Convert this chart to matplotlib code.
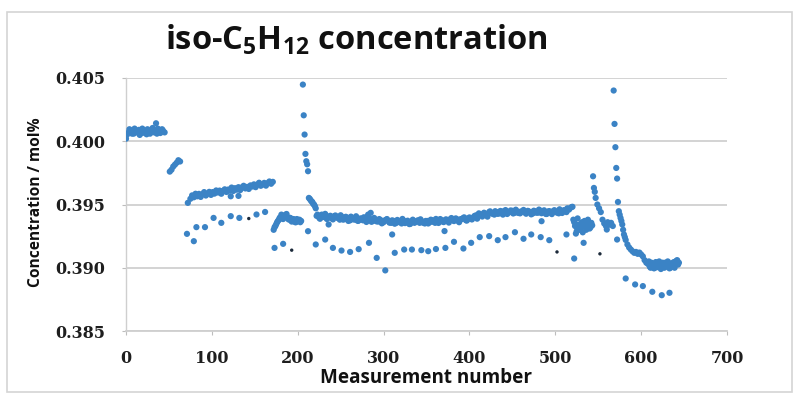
import matplotlib
matplotlib.use("Agg")
import matplotlib.pyplot as plt
from matplotlib.patches import Rectangle

# ---------------- data ----------------
# dense main series: (first measurement number, step, concentration values in mol%)
seg_a_start, seg_a_step = 0, 3
seg_a_y = [0.40020, 0.40070, 0.40085, 0.40060, 0.40075, 0.40090, 0.40065, 0.40080,
           0.40055, 0.40075, 0.40090, 0.40070, 0.40060, 0.40080, 0.40095, 0.40070]
seg_a2_start, seg_a2_step = 1, 3
seg_a2_y = [0.40050, 0.40095, 0.40060, 0.40100, 0.40070, 0.40050, 0.40100, 0.40065,
            0.40095, 0.40060, 0.40105, 0.40080, 0.40100, 0.40065, 0.40085]

seg_b_start, seg_b_step = 51, 2
seg_b_y = [0.39760, 0.39775, 0.39800, 0.39815, 0.39830, 0.39850, 0.39840]

seg_c_start, seg_c_step = 75, 2
seg_c_y = [0.39545, 0.39572, 0.39557, 0.39585, 0.39565, 0.39584, 0.39560, 0.39581, 0.39598, 0.39571,
           0.39585, 0.39600, 0.39576, 0.39598, 0.39586, 0.39611, 0.39595, 0.39610, 0.39585, 0.39608,
           0.39620, 0.39599, 0.39618, 0.39610, 0.39634, 0.39607, 0.39629, 0.39617, 0.39637, 0.39614,
           0.39635, 0.39648, 0.39627, 0.39639, 0.39623, 0.39651, 0.39642, 0.39659, 0.39637, 0.39658,
           0.39672, 0.39648, 0.39658, 0.39671, 0.39649, 0.39669, 0.39682, 0.39664, 0.39679]

seg_d_start, seg_d_step = 172, 2
seg_d_y = [0.39300, 0.39330, 0.39360, 0.39380, 0.39400, 0.39390, 0.39410, 0.39420,
           0.39400, 0.39380, 0.39390, 0.39370, 0.39380, 0.39360, 0.39370, 0.39380,
           0.39370]
seg_d2_start, seg_d2_step = 173, 2
seg_d2_y = [0.39320, 0.39345, 0.39370, 0.39395, 0.39420, 0.39385, 0.39400, 0.39425,
            0.39385, 0.39395, 0.39365, 0.39385, 0.39360, 0.39385, 0.39375, 0.39360]

seg_e_start, seg_e_step = 206, 1
seg_e_y = [0.40448, 0.40205, 0.40053, 0.39900, 0.39842, 0.39818, 0.39763, 0.39552,
           0.39545, 0.39535, 0.39525, 0.39520, 0.39505, 0.39500, 0.39487, 0.39470]

seg_f_start, seg_f_step = 222, 3
seg_f_y = [0.39410, 0.39395, 0.39420, 0.39400, 0.39385, 0.39405, 0.39390, 0.39410, 0.39395, 0.39380,
           0.39400, 0.39385, 0.39395, 0.39375, 0.39390, 0.39380, 0.39370, 0.39390, 0.39375, 0.39395,
           0.39420, 0.39385, 0.39370, 0.39380, 0.39365, 0.39375, 0.39360, 0.39380, 0.39365, 0.39355,
           0.39370, 0.39355, 0.39365, 0.39350, 0.39370, 0.39360, 0.39345, 0.39365, 0.39355, 0.39370,
           0.39355, 0.39365, 0.39350, 0.39370, 0.39360, 0.39375, 0.39355, 0.39370, 0.39385, 0.39365,
           0.39380, 0.39370, 0.39385, 0.39375, 0.39390, 0.39370, 0.39385, 0.39395, 0.39375, 0.39390,
           0.39385, 0.39400, 0.39415, 0.39430, 0.39420, 0.39435, 0.39425, 0.39440, 0.39430, 0.39420,
           0.39440, 0.39430, 0.39445, 0.39435, 0.39425, 0.39440, 0.39450, 0.39435, 0.39445, 0.39430,
           0.39445, 0.39435, 0.39450, 0.39440, 0.39430, 0.39445, 0.39435, 0.39450, 0.39440, 0.39425,
           0.39445, 0.39435, 0.39450, 0.39440, 0.39430, 0.39445, 0.39455, 0.39440, 0.39460, 0.39480]
seg_f2_start, seg_f2_step = 223, 3
seg_f2_y = [0.39420, 0.39387, 0.39409, 0.39426, 0.39394, 0.39411, 0.39382, 0.39413, 0.39395, 0.39415,
            0.39380, 0.39403, 0.39370, 0.39404, 0.39382, 0.39407, 0.39373, 0.39387, 0.39399, 0.39362,
            0.39384, 0.39363, 0.39394, 0.39366, 0.39385, 0.39351, 0.39373, 0.39385, 0.39356, 0.39375,
            0.39348, 0.39378, 0.39361, 0.39386, 0.39353, 0.39372, 0.39346, 0.39380, 0.39363, 0.39375,
            0.39383, 0.39356, 0.39370, 0.39350, 0.39380, 0.39363, 0.39386, 0.39354, 0.39376, 0.39361,
            0.39382, 0.39357, 0.39393, 0.39369, 0.39386, 0.39360, 0.39384, 0.39398, 0.39373, 0.39398,
            0.39382, 0.39410, 0.39388, 0.39423, 0.39405, 0.39425, 0.39404, 0.39446, 0.39427, 0.39447,
            0.39426, 0.39449, 0.39420, 0.39456, 0.39438, 0.39453, 0.39429, 0.39459, 0.39433, 0.39445,
            0.39457, 0.39427, 0.39446, 0.39422, 0.39451, 0.39435, 0.39460, 0.39431, 0.39454, 0.39425,
            0.39448, 0.39424, 0.39455, 0.39436, 0.39462, 0.39433, 0.39453, 0.39470, 0.39470, 0.39482]

seg_g_start, seg_g_step = 521, 2
seg_g_y = [0.39380, 0.39330, 0.39290, 0.39340, 0.39310, 0.39360, 0.39325, 0.39350,
           0.39330, 0.39345, 0.39320, 0.39335]
seg_g2_start, seg_g2_step = 522, 2
seg_g2_y = [0.39360, 0.39270, 0.39390, 0.39300, 0.39345, 0.39280, 0.39370, 0.39300,
            0.39380, 0.39310, 0.39355]

seg_h_x = [544, 545, 546, 547, 549, 551, 553, 555, 557, 559, 561, 563, 565, 567]
seg_h_y = [0.39723, 0.39631, 0.39600, 0.39552, 0.39500, 0.39470, 0.39440, 0.39380,
           0.39350, 0.39330, 0.39360, 0.39340, 0.39355, 0.39330]

seg_i_x = [568, 569, 570, 571, 572, 573, 574, 575, 576, 577, 578, 579, 580, 582, 584,
           586, 588, 590, 592, 594, 596, 598, 600, 602, 604, 606]
seg_i_y = [0.40401, 0.40137, 0.39953, 0.39789, 0.39705, 0.39520, 0.39447, 0.39420,
           0.39394, 0.39370, 0.39342, 0.39300, 0.39263, 0.39220, 0.39184, 0.39160,
           0.39144, 0.39130, 0.39118, 0.39125, 0.39110, 0.39120, 0.39105, 0.39090,
           0.39060, 0.39040]

seg_j_start, seg_j_step = 608, 2
seg_j_y = [0.39030, 0.39010, 0.39040, 0.39020, 0.39000, 0.39030, 0.39015, 0.39035,
           0.39005, 0.39025, 0.39040, 0.39010, 0.39030, 0.39000, 0.39020, 0.39045,
           0.39030, 0.39060, 0.39040]
seg_j2_start, seg_j2_step = 609, 2
seg_j2_y = [0.39050, 0.39000, 0.39020, 0.38995, 0.39045, 0.39005, 0.39050, 0.38990,
            0.39040, 0.39000, 0.39025, 0.39050, 0.38995, 0.39035, 0.39010, 0.39000,
            0.39055, 0.39025]

# isolated points inside / near the band
extra_x = [35, 72, 122, 131, 236, 285, 310, 371, 484]
extra_y = [0.40142, 0.39513, 0.39565, 0.39568, 0.39342, 0.39434, 0.39263, 0.39290, 0.39368]

# sparse lower points
low_x = [71, 79, 82, 92, 102, 111, 122, 132, 152, 162,
         173, 183, 212,
         221, 232, 241, 251, 261, 271, 283, 292, 302, 313, 324, 333, 344, 352, 361,
         372, 382, 393, 402, 412, 423, 433, 442, 453, 463, 472, 483, 493, 513, 522, 533,
         560, 572, 581, 582, 593, 602, 613, 624, 633]
low_y = [0.39268, 0.39210, 0.39321, 0.39321, 0.39394, 0.39355, 0.39408, 0.39394, 0.39421, 0.39441,
         0.39157, 0.39189, 0.39289,
         0.39184, 0.39223, 0.39157, 0.39136, 0.39125, 0.39147, 0.39197, 0.39078, 0.38979, 0.39118,
         0.39144, 0.39144, 0.39139, 0.39131, 0.39148,
         0.39157, 0.39205, 0.39152, 0.39197, 0.39242, 0.39250, 0.39218, 0.39242, 0.39281, 0.39229,
         0.39263, 0.39242, 0.39218, 0.39263, 0.39073, 0.39197,
         0.39302, 0.39223, 0.39242, 0.38915, 0.38868, 0.38855, 0.38810, 0.38783, 0.38802]

# small dark points
dark_x = [143, 193, 502, 552]
dark_y = [0.39389, 0.39139, 0.39125, 0.39110]

x_ticks = [0, 100, 200, 300, 400, 500, 600, 700]
y_ticks = [0.385, 0.390, 0.395, 0.400, 0.405]

# ---------------- assemble ----------------
def seg(start, step, ys):
    return [start + step * i for i in range(len(ys))], list(ys)

main_x, main_y = [], []
for s, st, ys in [(seg_a_start, seg_a_step, seg_a_y), (seg_a2_start, seg_a2_step, seg_a2_y),
                  (seg_b_start, seg_b_step, seg_b_y),
                  (seg_c_start, seg_c_step, seg_c_y),
                  (seg_d_start, seg_d_step, seg_d_y), (seg_d2_start, seg_d2_step, seg_d2_y),
                  (seg_e_start, seg_e_step, seg_e_y),
                  (seg_f_start, seg_f_step, seg_f_y), (seg_f2_start, seg_f2_step, seg_f2_y),
                  (seg_g_start, seg_g_step, seg_g_y), (seg_g2_start, seg_g2_step, seg_g2_y),
                  (seg_j_start, seg_j_step, seg_j_y), (seg_j2_start, seg_j2_step, seg_j2_y)]:
    xx, yy = seg(s, st, ys)
    main_x += xx
    main_y += yy
main_x += seg_h_x + seg_i_x + extra_x + low_x
main_y += seg_h_y + seg_i_y + extra_y + low_y

# ---------------- figure ----------------
plt.rcParams['mathtext.fontset'] = 'custom'
plt.rcParams['mathtext.rm'] = 'Open Sans:bold'
plt.rcParams['mathtext.it'] = 'Open Sans:bold'
plt.rcParams['mathtext.bf'] = 'Open Sans:bold'

W, H = 795, 394
fig = plt.figure(figsize=(W / 100, H / 100), dpi=100)
fig.patch.set_facecolor('white')

# chart frame
fig.patches.append(Rectangle((7 / W, 2 / H), 785 / W, 380 / H, transform=fig.transFigure,
                             fill=False, edgecolor='#d4d4d4', linewidth=1.2))

ax = fig.add_axes([126 / W, 1 - 331 / H, (727 - 126) / W, (331 - 78) / H])
ax.set_xlim(0, 700)
ax.set_ylim(0.385, 0.405)
ax.set_xticks(x_ticks)
ax.set_yticks(y_ticks)
ax.set_xticklabels([str(t) for t in x_ticks])
ax.set_yticklabels([f"{t:.3f}" for t in y_ticks])

ax.grid(axis='y', color='#d0d0d0', linewidth=1.3)
ax.set_axisbelow(True)
for s in ['top', 'right']:
    ax.spines[s].set_visible(False)
ax.spines['left'].set_color('#cfcfcf')
ax.spines['bottom'].set_color('#cfcfcf')
ax.spines['left'].set_linewidth(1.0)
ax.spines['bottom'].set_linewidth(1.3)

ax.tick_params(axis='x', length=3, color='#bdbdbd', pad=11)
ax.tick_params(axis='y', length=3, color='#bdbdbd', pad=12)
for lab in ax.get_xticklabels() + ax.get_yticklabels():
    lab.set_fontfamily('DejaVu Serif')
    lab.set_fontweight('bold')
    lab.set_fontsize(11.5)
    lab.set_color('#1e1e1e')

ax.scatter(main_x, main_y, s=20, color='#3b83c5', edgecolors='none', zorder=3)
ax.scatter(dark_x, dark_y, s=6, color='#1c2a3a', edgecolors='none', zorder=4)

fig.text(165 / W, 1 - 50 / H, r"iso-C$_{5}$H$_{12}$ concentration", fontfamily='Open Sans',
         fontweight='bold', fontsize=23.5, color='#111111', ha='left', va='baseline')
fig.text(426 / W, 1 - 378 / H, "Measurement number", fontfamily='Open Sans', fontweight='bold',
         fontsize=13.6, color='#111111', ha='center', va='center')
fig.text(36 / W, 1 - 202 / H, "Concentration / mol%", fontfamily='Open Sans', fontweight='bold',
         fontsize=11.2, color='#111111', ha='center', va='center', rotation=90)

fig.savefig('out.png', dpi=100)
